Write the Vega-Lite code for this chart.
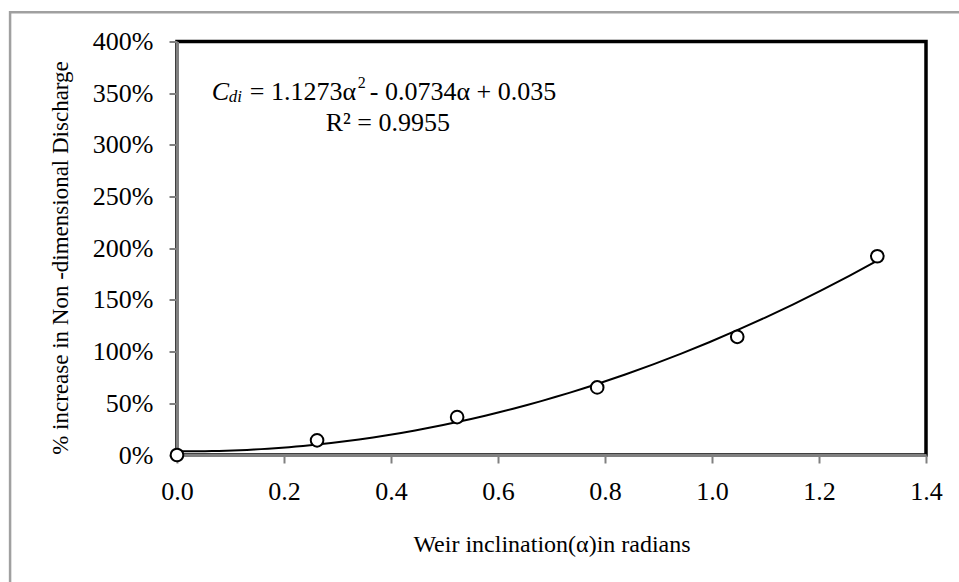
{
  "$schema": "https://vega.github.io/schema/vega-lite/v6.json",
  "autosize": {"type": "none"},
  "padding": {"left": 177, "top": 41.5, "right": 33, "bottom": 127},
  "width": 749,
  "height": 413.5,
  "background": "white",
  "config": {
    "view": {"stroke": "black", "strokeWidth": 3.5},
    "font": "Liberation Serif, Times New Roman, serif",
    "text": {"font": "Liberation Serif, Times New Roman, serif"},
    "axis": {"grid": false, "labelFont": "Liberation Serif, Times New Roman, serif", "titleFont": "Liberation Serif, Times New Roman, serif"}
  },
  "layer": [
    {
      "data": {"values": [{"k": 1}]},
      "mark": {"type": "rect", "fill": null, "stroke": "#a0a0a0", "strokeWidth": 2.5},
      "encoding": {
        "x": {"datum": -0.312, "type": "quantitative", "scale": {"domain": [0, 1.4], "nice": false, "zero": false}},
        "x2": {"datum": 2.5},
        "y": {"datum": 4.283, "type": "quantitative", "scale": {"domain": [0, 4], "nice": false}},
        "y2": {"datum": -2}
      }
    },
    {
      "data": {"values": [
        {"x": 0.0, "y": 0.0},
        {"x": 0.2618, "y": 0.142},
        {"x": 0.5236, "y": 0.367},
        {"x": 0.7854, "y": 0.654},
        {"x": 1.0472, "y": 1.143},
        {"x": 1.309, "y": 1.923}
      ]},
      "encoding": {
        "x": {
          "field": "x", "type": "quantitative",
          "scale": {"domain": [0, 1.4], "nice": false, "zero": false},
          "axis": {
            "values": [0, 0.2, 0.4, 0.6, 0.8, 1.0, 1.2, 1.4],
            "format": ".1f",
            "labelFlush": false,
            "title": "Weir inclination(α)in radians",
            "titleFontSize": 24, "titleFontWeight": "normal", "titleColor": "black",
            "titleY": 96, "titleBaseline": "alphabetic",
            "labelFontSize": 26, "labelColor": "black", "labelPadding": 15,
            "domainColor": "#808080", "domainWidth": 3,
            "tickColor": "#808080", "tickWidth": 2, "tickSize": 8
          }
        },
        "y": {
          "field": "y", "type": "quantitative",
          "scale": {"domain": [0, 4], "nice": false},
          "axis": {
            "values": [0, 0.5, 1, 1.5, 2, 2.5, 3, 3.5, 4],
            "format": ".0%",
            "labelFlush": false,
            "title": "% increase in Non -dimensional Discharge",
            "titleFontSize": 23, "titleFontWeight": "normal", "titleColor": "black",
            "titleX": -110, "titleY": 216, "titleBaseline": "alphabetic", "titleAlign": "center", "titleAngle": -90,
            "labelFontSize": 26, "labelColor": "black", "labelPadding": 16,
            "domainColor": "#808080", "domainWidth": 3,
            "tickColor": "#808080", "tickWidth": 2, "tickSize": 8
          }
        }
      },
      "layer": [
        {
          "transform": [{"regression": "y", "on": "x", "method": "poly", "order": 2, "extent": [0, 1.309]}],
          "mark": {"type": "line", "color": "black", "strokeWidth": 2}
        },
        {
          "mark": {"type": "point", "shape": "circle", "filled": false, "fill": "white", "fillOpacity": 1, "stroke": "black", "strokeWidth": 2, "size": 160, "opacity": 1}
        }
      ]
    },
    {
      "data": {"values": [{"k": 1}]},
      "encoding": {"x": {"datum": 0.065, "type": "quantitative"}, "y": {"datum": 3.507, "type": "quantitative"}},
      "layer": [
        {"mark": {"type": "text", "align": "left", "fontSize": 26, "fontStyle": "italic", "text": "C"}},
        {"mark": {"type": "text", "align": "left", "fontSize": 17, "fontStyle": "italic", "text": "di", "dx": 17, "dy": 5}},
        {"mark": {"type": "text", "align": "left", "fontSize": 26, "text": "= 1.1273α", "dx": 38}},
        {"mark": {"type": "text", "align": "left", "fontSize": 16, "text": "2", "dx": 146, "dy": -9}},
        {"mark": {"type": "text", "align": "left", "fontSize": 26, "text": "- 0.0734α + 0.035", "dx": 158}}
      ]
    },
    {
      "data": {"values": [{"k": 1}]},
      "mark": {"type": "text", "align": "center", "fontSize": 26, "text": "R² = 0.9955"},
      "encoding": {"x": {"datum": 0.394, "type": "quantitative"}, "y": {"datum": 3.208, "type": "quantitative"}}
    }
  ]
}
